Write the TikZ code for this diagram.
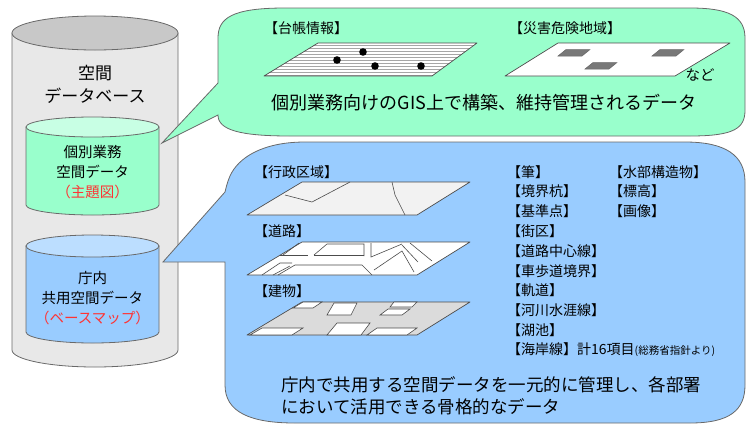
\documentclass[tikz,border=0pt]{standalone}
\usepackage{fontspec}
\setmainfont{Noto Sans CJK JP}
\usepackage{tkz-euclide}

\definecolor{mint}{RGB}{153,255,204}
\definecolor{mintlight}{RGB}{200,255,228}
\definecolor{sky}{RGB}{153,204,255}
\definecolor{skylight}{RGB}{188,222,255}
\definecolor{dbgray}{RGB}{232,232,232}
\definecolor{dbtop}{RGB}{200,200,200}
\definecolor{edge}{RGB}{105,105,105}
\definecolor{tagred}{RGB}{255,51,51}
\definecolor{tile}{RGB}{120,120,120}

\newcommand{\setsz}[1]{\fontsize{#1}{#1}\selectfont}

\begin{document}
\begin{tikzpicture}[x=1pt,y=-1pt,
    rim/.style={draw=edge,line width=0.8pt},
    layer/.style={draw=black!70,line width=0.7pt},
    lbl/.style={anchor=west,inner sep=0pt,font=\setsz{14}}]

\useasboundingbox (0,0) rectangle (747,424);

% database and its two parts
\draw[rim,fill=dbgray] (12,33) -- (12,350)
    arc[start angle=180,end angle=360,x radius=83pt,y radius=17pt] -- (178,33) -- cycle;
\draw[rim,fill=dbtop] (95,33) ellipse[x radius=83pt,y radius=17pt];
\node[align=center,font=\fontsize{17}{23}\selectfont] (db) at (95,84) {空間\\データベース};

\draw[rim,fill=mint] (26,127) -- (26,205)
    arc[start angle=180,end angle=360,x radius=66.5pt,y radius=10pt] -- (159,127) -- cycle;
\draw[rim,fill=mintlight] (92.5,127) ellipse[x radius=66.5pt,y radius=10pt];
\node[align=center,font=\fontsize{14.5}{20}\selectfont] (theme) at (92.5,172)
    {個別業務\\空間データ\\\textcolor{tagred}{（主題図）}};

\draw[rim,fill=sky] (26,246) -- (26,332)
    arc[start angle=180,end angle=360,x radius=66.5pt,y radius=11pt] -- (159,246) -- cycle;
\draw[rim,fill=skylight] (92.5,246) ellipse[x radius=66.5pt,y radius=11pt];
\node[align=center,font=\fontsize{14.5}{20}\selectfont] (base) at (92.5,298)
    {庁内\\共用空間データ\\\textcolor{tagred}{（ベースマップ）}};

%%%%%%%%%%%%%%%%%%%%
% callout: individual data
\draw[rim,fill=mint] (218,83) -- (162,143) -- (218,115)
    .. controls (218,130) and (240,136) .. (290,136) -- (690,136)
    .. controls (735,136) and (745,128) .. (745,110) -- (745,38)
    .. controls (745,16) and (728,8) .. (690,8) -- (285,8)
    .. controls (232,8) and (218,18) .. (218,38) -- cycle;

\node[lbl] (ledger) at (264,28) {【台帳情報】};
\node[lbl] (hazard) at (509,28) {【災害危険地域】};

\tkzDefPoints{264/76/A1, 432/76/A2, 477/43/A3, 318/43/A4}
\begin{scope}
    \tkzClipPolygon(A1,A2,A3,A4)
    \tkzFillPolygon[fill=white](A1,A2,A3,A4)
    \foreach \y in {45,48,...,75}
        \draw[gray!70,line width=0.4pt] (260,\y) -- (480,\y);
\end{scope}
\tkzDrawPolygon[layer](A1,A2,A3,A4)
\tkzDefPoints{337/60/d1, 363/52/d2, 375/66/d3, 421/66/d4}
\foreach \d in {d1,d2,d3,d4}
    \fill (\d) circle (3.8pt);

\tkzDefPoints{505/76/B1, 675/76/B2, 730/43/B3, 558/43/B4}
\tkzDrawPolygon[layer,fill=white](B1,B2,B3,B4)
\foreach \x/\y in {558/56, 585/69, 652/56}
    \draw[draw=black!60,fill=tile,line width=0.5pt]
        (\x,\y) -- ++(8,-6.5) -- ++(24,0) -- ++(-8,6.5) -- cycle;
\node[font=\setsz{14.5}] (etc) at (700,75) {など};

\node[font=\setsz{18}] (indiv) at (484,103) {個別業務向けのGIS上で構築、維持管理されるデータ};

%%%%%%%%%%%%%%%%%%%%
% callout: shared base map
\draw[rim,fill=sky] (225,192) -- (163,262) -- (225,262) -- (225,385)
    .. controls (225,412) and (250,423) .. (295,423) -- (690,423)
    .. controls (730,423) and (745,410) .. (745,385) -- (745,182)
    .. controls (745,155) and (725,142) .. (685,142) -- (305,142)
    .. controls (262,142) and (238,158) .. (230,176)
    .. controls (227,183) and (226,188) .. (225,192) -- cycle;

\node[lbl] (admin) at (254,172) {【行政区域】};
\tkzDefPoints{247/215/C1, 417/215/C2, 470/182/C3, 302/182/C4}
\tkzDrawPolygon[layer,fill=gray!10](C1,C2,C3,C4)
\draw[layer,line width=0.6pt] (285,195) -- (312,202) -- (350,182);
\draw[layer,line width=0.6pt] (392,182) -- (395,195) -- (405,215);

\node[lbl] (road) at (254,231) {【道路】};
\tkzDefPoints{247/275/D1, 417/275/D2, 470/242/D3, 302/242/D4}
\tkzDrawPolygon[layer,fill=white](D1,D2,D3,D4)
\begin{scope}[layer,line width=0.6pt]
    \draw (283,255) -- (299,243);
    \draw (280,255) -- (308,255);
    \draw (314,255) -- (327,244) -- (364,244) -- (364,256);
    \draw (314,255) -- (364,255);
    \draw (371,243) -- (371,257) -- (402,244);
    \draw (410,243) -- (432,261);
    \draw (402,245) -- (418,262);
    \draw (262,275) -- (280,263) -- (292,263);
    \draw (273,275) -- (290,266);
    \draw (278,275) -- (295,265) -- (362,265) -- (372,275);
    \draw (374,270) -- (402,251) -- (414,272);
\end{scope}

\node[lbl] (bldg) at (254,291) {【建物】};
\tkzDefPoints{247/335/E1, 417/335/E2, 470/302/E3, 302/302/E4}
\tkzDrawPolygon[layer,fill=gray!28](E1,E2,E3,E4)
\begin{scope}[layer,line width=0.6pt,fill=white]
    \filldraw (293,308) -- (303,302) -- (322,302) -- (313,308) -- cycle;
    \filldraw (327,315) -- (334,303) -- (357,303) -- (351,315) -- cycle;
    \filldraw (380,315) -- (388,309) -- (410,309) -- (402,315) -- cycle;
    \filldraw (390,307) -- (394,302) -- (417,302) -- (412,307) -- cycle;
    \filldraw (250,335) -- (262,328) -- (303,328) -- (292,335) -- cycle;
    \filldraw (327,335) -- (337,323) -- (370,323) -- (361,335) -- cycle;
    \filldraw (367,335) -- (377,328) -- (417,328) -- (407,335) -- cycle;
\end{scope}

% item list
\foreach \name [count=\i] in {筆,境界杭,基準点,街区,道路中心線,車歩道境界,軌道,河川水涯線,湖池}
    \node[lbl] (item\i) at (507,152+19.8*\i) {【\name】};
\node[lbl] (item10) at (507,350) {【海岸線】計16項目{\setsz{10.5}(総務省指針より)}};
\foreach \name [count=\i] in {水部構造物,標高,画像}
    \node[lbl] (extra\i) at (609,152+19.8*\i) {【\name】};

\node[anchor=west,align=left,inner sep=0pt,font=\fontsize{17.5}{22}\selectfont] (shared)
    at (281,396) {庁内で共用する空間データを一元的に管理し、各部署\\において活用できる骨格的なデータ};

\end{tikzpicture}
\end{document}
